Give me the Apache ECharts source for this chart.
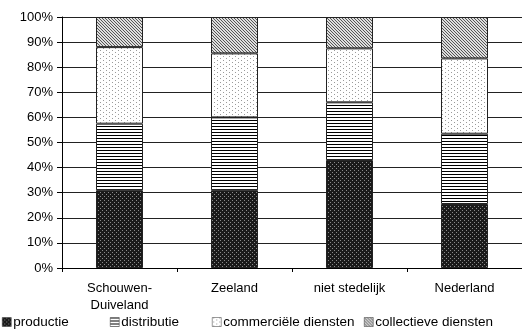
<!DOCTYPE html>
<html>
<head>
<meta charset="utf-8">
<script src="https://cdn.jsdelivr.net/npm/echarts@6/dist/echarts.min.js"></script>
<style>
  html, body { margin: 0; padding: 0; background: #fff; }
  #chart { width: 522px; height: 334px; }
</style>
</head>
<body>
<div id="chart"></div>
<script>
// Sector shares per area (percent of employment)
const categories = ['Schouwen-\nDuiveland', 'Zeeland', 'niet stedelijk', 'Nederland'];
const productie = [31, 31, 43, 25.5];
const distributie = [26.5, 29, 23, 28];
const commercieel = [30.5, 25.5, 21.5, 30];
const collectief = [12, 14.5, 12.5, 16.5];
const seriesNames = ['productie', 'distributie', 'commerciële diensten', 'collectieve diensten'];
const yTicks = [0, 10, 20, 30, 40, 50, 60, 70, 80, 90, 100];

// Small bitmap tiles used as fill patterns (monochrome print style)
function tile(w, h, bg, fg, pixels) {
  const c = document.createElement('canvas');
  c.width = w; c.height = h;
  const ctx = c.getContext('2d');
  ctx.fillStyle = bg; ctx.fillRect(0, 0, w, h);
  ctx.fillStyle = fg;
  pixels.forEach(([x, y]) => ctx.fillRect(x, y, 1, 1));
  return { image: c, repeat: 'repeat' };
}
const patProductie = tile(4, 4, '#1a1a1a', '#8a8a8a', [[0, 0], [2, 2]]);
const patDistributie = tile(1, 3, '#ffffff', '#000000', [[0, 0]]);
const patCommercieel = tile(6, 4, '#ffffff', '#9a9a9a', [[1, 0], [4, 2]]);
const patCollectief = tile(3, 3, '#dedede', '#555555', [[0, 0], [1, 1], [2, 2]]);
const patterns = [patProductie, patDistributie, patCommercieel, patCollectief];
const values = [productie, distributie, commercieel, collectief];

const font = 'Liberation Sans, Arial, sans-serif';
const chart = echarts.init(document.getElementById('chart'), null, { renderer: 'canvas' });

const legendLefts = [2, 110, 212, 364];
const legends = seriesNames.map((n, i) => ({
  data: [n],
  left: legendLefts[i],
  top: 315,
  itemWidth: 9,
  itemHeight: 9,
  icon: 'rect',
  padding: 0,
  textStyle: { fontFamily: font, fontSize: 13.5, color: '#000', padding: [0, 0, 0, -3] },
  itemStyle: { borderColor: '#333', borderWidth: 0.5 }
}));

chart.setOption({
  animation: false,
  backgroundColor: '#fff',
  grid: { left: 62, right: -3, top: 17, bottom: 66 },
  legend: legends,
  xAxis: {
    type: 'category',
    data: categories,
    axisLine: { lineStyle: { color: '#000', width: 1 } },
    axisTick: { show: true, length: 4, lineStyle: { color: '#000' } },
    axisLabel: { fontFamily: font, fontSize: 13, color: '#000', margin: 12, lineHeight: 17 }
  },
  yAxis: {
    type: 'value',
    min: yTicks[0],
    max: yTicks[yTicks.length - 1],
    interval: 10,
    axisLine: { show: true, lineStyle: { color: '#000', width: 1 } },
    axisTick: { show: true, length: 5, lineStyle: { color: '#000' } },
    axisLabel: { fontFamily: font, fontSize: 13, color: '#000', margin: 9, formatter: '{value}%' },
    splitLine: { show: true, lineStyle: { color: '#222', width: 1 } }
  },
  series: seriesNames.map((n, i) => ({
    name: n,
    type: 'bar',
    stack: 'total',
    barWidth: 47,
    data: values[i],
    itemStyle: { color: patterns[i], borderColor: '#222', borderWidth: 1 }
  }))
});
</script>
</body>
</html>
